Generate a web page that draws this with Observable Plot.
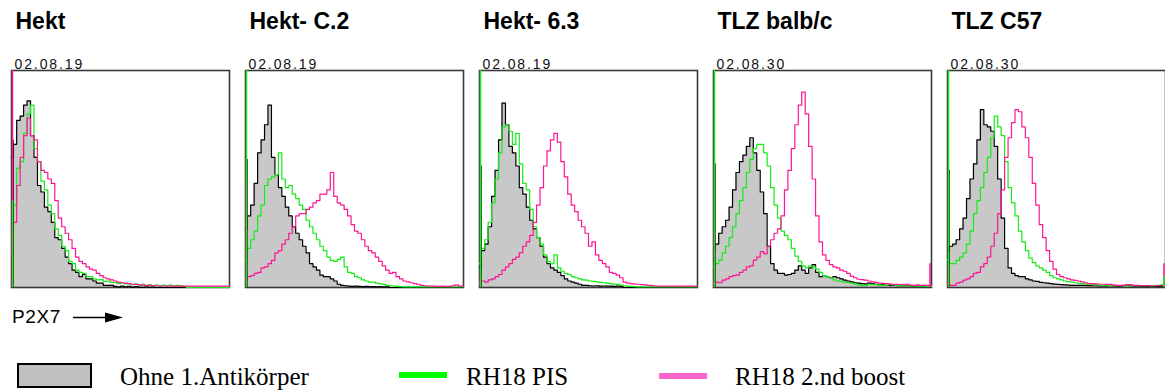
<!DOCTYPE html>
<html>
<head>
<meta charset="utf-8">
<script src="https://cdn.jsdelivr.net/npm/d3@7"></script>
<script src="https://cdn.jsdelivr.net/npm/@observablehq/plot@0.6"></script>
<style>
  body { margin: 0; background: #fff; }
  #chart svg { display: block; }
  #legend { display: block; }
</style>
</head>
<body>
<div id="chart"></div>
<svg id="legend" width="1165" height="92"></svg>
<script>
// ---------- data ----------
const panels = ["Hekt", "Hekt- C.2", "Hekt- 6.3", "TLZ balb/c", "TLZ C57"];
const dates = ["02.08.19", "02.08.19", "02.08.19", "02.08.30", "02.08.30"];
const seriesNames = ["Ohne 1.Antikörper", "RH18 PIS", "RH18 2.nd boost"];
const axisLabel = "P2X7";

// 64 channel bins per histogram, % of panel height
const hekt_ohne = [60,66,77,79,84,86,70,60,47,44, 37,35,30,23,22,18,14,11,8,7, 5,6,4,4,3,2,2,1,1,1, 0.5,0.3,0.6,0.3,0.5,0.2,0.4,0.2,0.1,0.3, 0.1,0.2,0,0.1,0,0,0,0,0,0, 0,0,0,0,0,0,0,0,0,0, 0,0,0,0];
const hekt_pis = [22,38,55,58,71,80,84,64,58,49, 45,38,34,27,24,19,17,12,11,8, 7,6.5,5,5,4,3.5,3.6,2.8,2.9,2.4, 2.3,1.8,2.1,1.7,1.7,1.3,1.6,1.1,1.4,0.9, 1.2,0.9,1.1,0.7,1.1,0.8,1.1,0.7,1,0.9, 0.5,0,0,0,0,0,0,0,0,0, 0,0,0,0];
const hekt_boost = [17,30,47,60,70,78,70,68,58,54, 53,50,48,40,32,28,25,22,18,14, 12,11,9.5,8.5,8,6.5,5.5,4.5,4,3.5, 3,2.5,2.2,2,1.8,1.5,1.4,1.3,1.1,1, 1,0.9,0.8,0.7,0.7,0.6,0.6,0.6,0.6,0.6, 0.6,0.6,0.6,0.6,0.6,0.6,0.6,0.6,0.6,0.6, 0.6,0.6,0.6,0.6];

const c2_ohne = [27,33,38,48,62,68,75,84,60,52, 46,42,37,33,28,25,22,19,16,11, 9.5,8,5.7,5,5,4,3,1.5,1,0.8, 0.6,0.5,0.6,0.5,0.4,0.5,0.4,0.4,0.3,0.4, 0.3,0.3,0,0,0,0,0,0,0,0, 0,0,0,0,0,0,0,0,0,0, 0,0,0,0];
const c2_pis = [13,18,22,26,33,38,47,50,51,52, 62,50,46,47,43,41,38,36,31,28, 25,22,19,17,14,12.5,12,13,14,9.5, 7,6.5,5,4.5,3.5,3,2.5,2.5,2,1.7, 1.4,1,0.8,0.7,0.5,0.4,0.3,0.3,0.3,0.3, 0.3,0.3,0.3,0.3,0.3,0.3,0.3,0.3,0.3,0.3, 0.3,0.3,0.3,0.3];
const c2_boost = [3.5,5,5.5,6.5,7,9,9.5,11,12.5,16, 17,20,22,25,28,33,34,34,36,37, 39,40,43,43,45,53,42,39,38,36, 33,29,26,25,22,19,17,16,14,12, 10,8,6.5,7,5,4,3,2.6,2.2,1.8, 1.5,1,0.8,0.7,0.6,0.6,0.5,0.6,0.5,0.5, 0.8,1.2,0.6,0.8];

const h63_ohne = [9.5,17,20,28,42,54,68,85,75,65, 62,56,46,43,37,31,27,23,19,14, 11,9,8,7,5.5,4,3,2.5,2,1.5, 1,1,0.8,0.7,0.8,0.6,0.7,0.6,0.6,0.5, 0.6,0.5,0,0,0,0,0,0,0,0, 0,0,0,0,0,0,0,0,0,0, 0,0,0,0];
const h63_pis = [11,18,22,30,39,50,62,74,75,72, 66,71,57,48,45,36,28,23,20,15, 12,11,15,9,7.5,6.5,6,5,4.5,4, 3.5,3.4,3,2.8,2.6,2.4,2.2,2,1.8,1.6, 1.4,1.1,0.8,0.6,0.5,0.4,0.3,0.3,0.3,0.3, 0.3,0.3,0.3,0.3,0.3,0.3,0.3,0.3,0.3,0.3, 0.3,0.3,0.3,0.3];
const h63_boost = [2,3,2.5,3.5,4,5,6,8,9.5,11, 13,14,16,19,21,24,30,38,46,56, 63,68,71,67,58,51,43,38,35,31, 28,25,19,21,15,12.5,11,9.5,7,6.5, 5.7,4.5,2.5,2,1.8,1.6,1.5,1.3,1.2,1, 0.9,0.7,0.6,0.6,0.6,0.6,0.6,0.6,0.6,0.6, 0.6,0.6,0.6,0.6];

const balb_ohne = [17,20,25,28,31,37,45,53,58,61, 65,69,62,54,44,34,19,11,8,6.5, 6.5,5.7,6,6.5,8,10,8,6.5,9,10.5, 7,5,5.5,5,4.5,5,4.5,4,3.4,3, 2.6,2.2,2,1.8,1.7,2,1.8,1.5,1.3,1.2, 1,1,1,0.9,0.8,0.9,0.8,0.7,0.7,0.6, 0.6,0.6,0.5,0.5];
const balb_pis = [9.5,11,12.6,16,19,23,28,34,40,46, 53,59,64,66,66,62,56,46,38,32, 26,24,22,18,14.5,12,10,9,10,9.5, 8.5,7,5.5,5,4.5,3.5,3,2.8,2.5,2.3, 2,1.7,1.2,1,1,1.5,1.4,1.3,1.2,1, 1,1.5,1.2,0.9,0.9,0.8,0.8,0.7,0.7,0.6, 0.6,0.6,0.5,0.5];
const balb_boost = [2,2.5,2.2,3.4,4,5,5.5,5.7,7,8, 9.5,10,12.6,14,16.5,15.5,19,22,25,27, 33,45,54,64,75,84,90,80,65,50, 33,21,15,12.5,10.5,9.5,9,8,7.5,6.5, 5.2,4.5,3.8,3.6,3.4,3,2.6,2.4,2,1.9, 1.8,1.6,1.5,1.4,1.3,1.5,1.4,1.1,1,1.2, 1,1.1,1,1];

const c57_ohne = [17,19,20,22,27,32,41,50,57,68, 82,75,74,72,65,50,32,18,9,6.5, 5.5,5,5,4,3.5,3,2.8,2.4,2.2,2, 1.8,1.6,1.4,1.3,1.2,1.1,1,1,1,1, 1,0.9,0.8,0.8,0.7,0.7,0.7,0.8,0.7,0.6, 0.6,0.8,1.2,0.7,0.6,0.5,0.5,0.5,0.5,0.5, 0.5,0.5,0.5,0.5];
const c57_pis = [12.6,11,11,12.5,14,16,20,26,34,40, 46,53,60,69,79,74,70,58,46,39, 33,26,21,17,13.5,11.5,10,9,8,7, 5.5,4.5,4,3.5,3,2.7,2.5,2.2,2,1.8, 1.6,1.5,1.3,1.2,1.1,1,1,0.9,0.9,0.8, 0.8,0.8,0.7,0.7,0.8,0.7,0.8,0.8,0.9,0.7, 0.8,1,1.2,1];
const c57_boost = [2,1,1,2,2.5,3.4,4,5,6.5,7, 9.5,11,14,19,25,34,45,60,69,76, 82,81,74,69,60,48,38,29,23,17, 12,8.5,6,5,4.5,4,3.5,3.3,3,2.6, 2.2,1.8,1.8,1.7,1.5,1.5,1.4,1.4,1.2,1, 1,1.1,1.2,1.3,1,1,0.9,0.8,0.9,0.8, 0.8,0.8,0.9,0.9];

// off-scale counts piled in the first / last channel
const leftSpikeOhne  = [68, 59, 56, 57, 54];
const leftSpikePIS   = [40, 100, 100, 100, 100];
const leftSpikeBoost = [100, 50, 5, 25, 11];
const rightSpikePIS   = [0, 0, 0, 0, 5];
const rightSpikeBoost = [0, 0, 0, 11, 11];

// ---------- build tables ----------
const ohneByPanel  = [hekt_ohne, c2_ohne, h63_ohne, balb_ohne, c57_ohne];
const pisByPanel   = [hekt_pis, c2_pis, h63_pis, balb_pis, c57_pis];
const boostByPanel = [hekt_boost, c2_boost, h63_boost, balb_boost, c57_boost];

function rowsOf(arrs) {
  const out = [];
  arrs.forEach((arr, p) => arr.forEach((v, i) => out.push({panel: panels[p], bin: i, value: v})));
  return out;
}
const ohneRows = rowsOf(ohneByPanel);
const pisRows = rowsOf(pisByPanel);
const boostRows = rowsOf(boostByPanel);
const spikeRows = (vals, side) => vals.map((v, p) => ({panel: panels[p], side, value: v})).filter(d => d.value > 0);

const cGray = "#c8c8c8", cGreen = "#14ec14", cPink = "#ff1493";
const lastBin = hekt_ohne.length - 1;

const plot = Plot.plot({
  width: 1165,
  height: 300,
  marginTop: 70,
  marginBottom: 13,
  marginLeft: 10,
  marginRight: -1,
  style: {fontFamily: "'Liberation Sans', Arial, sans-serif", background: "white", color: "black"},
  fx: {domain: panels, paddingInner: 0.0672, paddingOuter: 0, axis: null},
  x: {domain: [0, lastBin], axis: null},
  y: {domain: [0, 100], axis: null},
  marks: [
    Plot.areaY(ohneRows, {fx: "panel", x: "bin", y: "value", fill: cGray, curve: "step"}),
    Plot.frame({stroke: "#3a3a3a", strokeWidth: 1.6}),
    Plot.lineY(ohneRows, {fx: "panel", x: "bin", y: "value", stroke: "black", strokeWidth: 1.2, curve: "step"}),
    Plot.lineY(pisRows, {fx: "panel", x: "bin", y: "value", stroke: cGreen, strokeWidth: 1.2, curve: "step"}),
    Plot.lineY(boostRows, {fx: "panel", x: "bin", y: "value", stroke: cPink, strokeWidth: 1.2, curve: "step"}),
    Plot.ruleX(spikeRows(leftSpikeOhne, "l"), {fx: "panel", x: () => 0, y1: () => 0, y2: "value", stroke: "black", strokeWidth: 1.5, dx: 1.5}),
    Plot.ruleX(spikeRows(leftSpikeBoost, "l"), {fx: "panel", x: () => 0, y1: () => 0, y2: "value", stroke: cPink, strokeWidth: 1.5, dx: 1}),
    Plot.ruleX(spikeRows(leftSpikePIS, "l"), {fx: "panel", x: () => 0, y1: () => 0, y2: "value", stroke: cGreen, strokeWidth: 1.5, dx: 1}),
    Plot.ruleX(spikeRows(rightSpikeBoost, "r"), {fx: "panel", x: () => lastBin, y1: () => 0, y2: "value", stroke: cPink, strokeWidth: 1.5, dx: -1.5}),
    Plot.ruleX(spikeRows(rightSpikePIS, "r"), {fx: "panel", x: () => lastBin, y1: () => 0, y2: "value", stroke: cGreen, strokeWidth: 1.5, dx: -1.5}),
    Plot.text(panels, {fx: d => d, text: d => d, frameAnchor: "top-left", lineAnchor: "bottom", textAnchor: "start", dx: 4, dy: -42, fontSize: 23, fontWeight: "bold", fill: "black"}),
    Plot.text(dates, {fx: (d, i) => panels[i], text: d => d, frameAnchor: "top-left", lineAnchor: "bottom", textAnchor: "start", dx: 3, dy: -2, fontSize: 14, fill: "#111"})
  ]
});
document.getElementById("chart").appendChild(plot);
// spaced-out date labels as in the original
d3.select(plot).selectAll("text")
  .filter(function () { return dates.includes(this.textContent); })
  .style("letter-spacing", "1.9px")
  .style("font-size", "14px");

// ---------- axis note and legend (below the chart) ----------
const lg = d3.select("#legend");
lg.append("text").attr("x", 12).attr("y", 23).attr("font-family", "'Liberation Sans', Arial, sans-serif")
  .attr("font-size", 19).attr("letter-spacing", "0.6px").text(axisLabel);
lg.append("line").attr("x1", 73).attr("x2", 110).attr("y1", 17.5).attr("y2", 17.5).attr("stroke", "black").attr("stroke-width", 1.6);
lg.append("path").attr("d", "M105,12.5 L123,17.5 L105,22.5 Z").attr("fill", "black");

const serif = "'Liberation Serif', 'Times New Roman', serif";
lg.append("rect").attr("x", 18).attr("y", 64).attr("width", 73).attr("height", 23)
  .attr("fill", "#c0c0c0").attr("stroke", "black").attr("stroke-width", 2);
lg.append("text").attr("x", 120).attr("y", 85).attr("font-family", serif).attr("font-size", 25).text(seriesNames[0]);
lg.append("rect").attr("x", 399).attr("y", 72).attr("width", 48).attr("height", 6).attr("fill", "#00ff00");
lg.append("text").attr("x", 466).attr("y", 85).attr("font-family", serif).attr("font-size", 25).text(seriesNames[1]);
lg.append("rect").attr("x", 659).attr("y", 73).attr("width", 48).attr("height", 6).attr("fill", "#ff66cc");
lg.append("text").attr("x", 735).attr("y", 85).attr("font-family", serif).attr("font-size", 25).text(seriesNames[2]);
</script>
</body>
</html>
